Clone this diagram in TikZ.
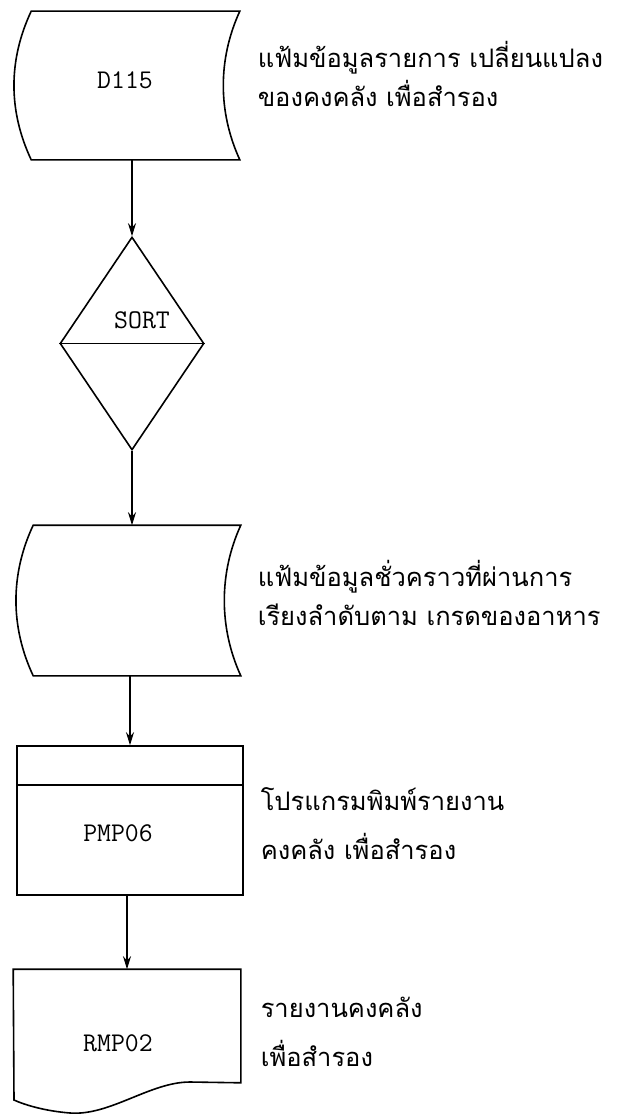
\documentclass[tikz,border=0pt]{standalone}
\usepackage{fontspec}
\newfontfamily\thaifont[Script=Thai]{Loma}
\usetikzlibrary{shapes.geometric,arrows.meta}
\begin{document}
\begin{tikzpicture}[>={Stealth[length=13pt,width=8pt]},x=1pt,y=-1pt,line width=1.6pt,
  frame/.style={rectangle,inner sep=0pt},
  code/.style={font=\ttfamily\fontsize{27}{30}\selectfont},
  note/.style={anchor=west,align=left,inner sep=0pt,font=\thaifont\fontsize{25.5}{39}\selectfont}]
\useasboundingbox (0,0) rectangle (630,1116);
% data files
\node[frame,minimum width=207pt,minimum height=147pt] (d115) at (135.5,85.5) {};
\node[frame,minimum width=206pt,minimum height=149pt] (tmp) at (137,600.5) {};
\foreach \f in {d115,tmp}
  \draw (\f.north west) -- (\f.north east) .. controls +(-22,48) and +(-22,-48) .. (\f.south east)
    -- (\f.south west) .. controls +(-23,-49) and +(-23,49) .. (\f.north west) -- cycle;
\node[code] (d115txt) at (125,80) {D115};
% sort
\node[draw,diamond,minimum width=144pt,minimum height=213pt,inner sep=0pt] (sort) at (132,343.5) {};
\draw (sort.west) -- (sort.east);
\node[code] (sorttxt) at (142,320) {SORT};
% program
\node[draw,frame,minimum width=226pt,minimum height=149pt] (pmp) at (130,820.5) {};
\draw ([yshift=-40pt]pmp.north west) -- ([yshift=-40pt]pmp.north east);
\node[code] (pmptxt) at (118,833) {PMP06};
% report
\node[frame,minimum width=226pt,minimum height=112pt] (rmp) at (127,1026) {};
\draw (rmp.north west) -- (rmp.north east) -- (rmp.south east) -- (190,1082)
  .. controls (150,1082) and (110,1116) .. (70,1113) .. controls (45,1111) and (25,1105) .. (14,1100) -- cycle;
\node[code] (rmptxt) at (118,1043) {RMP02};
% flow
\draw[->] (sort.north |- d115.south) -- (sort.north);
\draw[->] (sort.south) -- (sort.south |- tmp.north);
\draw[->] (tmp.south -| pmp.north) -- (pmp.north);
\draw[->] (pmp.south -| rmp.north) -- (rmp.north);
% notes
\node[note] (n1) at (257,74) {แฟ้มข้อมูลรายการ เปลี่ยนแปลง\\ของคงคลัง เพื่อสำรอง};
\node[note] (n2) at (257,593) {แฟ้มข้อมูลชั่วคราวที่ผ่านการ\\เรียงลำดับตาม เกรดของอาหาร};
\node[note] (n3) at (260,824) {โปรแกรมพิมพ์รายงาน\\[10pt]คงคลัง เพื่อสำรอง};
\node[note] (n4) at (260,1032) {รายงานคงคลัง\\[10pt]เพื่อสำรอง};
\end{tikzpicture}
\end{document}
